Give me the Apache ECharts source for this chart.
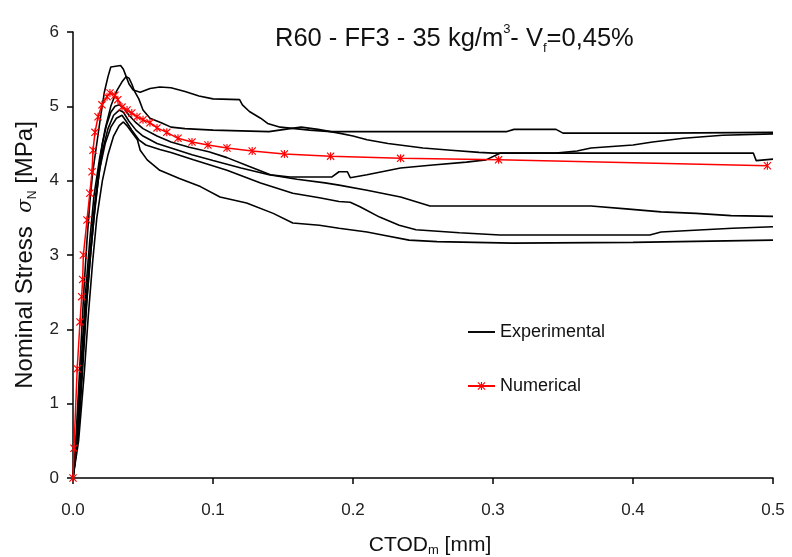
<!DOCTYPE html>
<html>
<head>
<meta charset="utf-8">
<script src="https://cdn.jsdelivr.net/npm/echarts@6/dist/echarts.min.js"></script>
<style>
html,body{margin:0;padding:0;background:#fff;}
#chart{width:792px;height:557px;}
</style>
</head>
<body>
<div id="chart"></div>
<script>
// ---- Data (CTOD_m [mm], nominal stress [MPa]) ----
const xTicks = [0, 0.1, 0.2, 0.3, 0.4, 0.5];
const yTicks = [0, 1, 2, 3, 4, 5, 6];

const exp1 = [[0,0],[0.002,0.5],[0.004,1.2],[0.006,1.9],[0.008,2.6],[0.010,3.2],[0.012,3.7],[0.014,4.1],[0.017,4.5],[0.020,4.9],[0.0225,5.2],[0.025,5.4],[0.027,5.53],[0.034,5.55],[0.036,5.5],[0.038,5.4],[0.040,5.3],[0.043,5.22],[0.048,5.19],[0.055,5.24],[0.062,5.26],[0.07,5.25],[0.08,5.2],[0.09,5.14],[0.1,5.1],[0.119,5.09],[0.121,5.02],[0.126,4.93],[0.134,4.84],[0.139,4.77],[0.148,4.72],[0.169,4.68],[0.184,4.66],[0.25,4.66],[0.31,4.66],[0.315,4.69],[0.345,4.69],[0.35,4.64],[0.42,4.64],[0.5,4.65]];

const exp2 = [[0,0],[0.003,0.6],[0.006,1.6],[0.009,2.5],[0.012,3.2],[0.015,3.8],[0.019,4.3],[0.023,4.7],[0.027,5.0],[0.031,5.2],[0.035,5.33],[0.038,5.4],[0.040,5.38],[0.042,5.3],[0.044,5.2],[0.047,5.1],[0.050,4.95],[0.055,4.84],[0.063,4.78],[0.07,4.72],[0.08,4.7],[0.1,4.68],[0.12,4.67],[0.14,4.66],[0.155,4.7],[0.163,4.72],[0.175,4.69],[0.19,4.64],[0.2,4.6],[0.21,4.55],[0.225,4.5],[0.25,4.44],[0.27,4.41],[0.29,4.38],[0.3,4.37],[0.345,4.37],[0.36,4.4],[0.37,4.44],[0.4,4.48],[0.414,4.52],[0.436,4.57],[0.464,4.61],[0.5,4.63]];

const exp3 = [[0,0],[0.003,0.5],[0.006,1.4],[0.009,2.3],[0.012,3.0],[0.015,3.6],[0.018,4.1],[0.021,4.5],[0.024,4.75],[0.027,4.92],[0.030,5.0],[0.033,5.02],[0.036,4.98],[0.04,4.88],[0.045,4.78],[0.05,4.7],[0.06,4.6],[0.07,4.52],[0.083,4.45],[0.097,4.39],[0.11,4.31],[0.126,4.19],[0.141,4.08],[0.155,4.05],[0.17,4.05],[0.185,4.05],[0.19,4.12],[0.196,4.12],[0.198,4.04],[0.21,4.08],[0.234,4.17],[0.257,4.21],[0.281,4.25],[0.295,4.28],[0.305,4.37],[0.35,4.37],[0.4,4.37],[0.45,4.37],[0.486,4.37],[0.488,4.27],[0.5,4.29]];

const exp4 = [[0,0],[0.003,0.45],[0.006,1.3],[0.009,2.2],[0.012,2.9],[0.015,3.5],[0.018,4.0],[0.021,4.4],[0.025,4.7],[0.029,4.88],[0.033,4.95],[0.036,4.92],[0.04,4.8],[0.045,4.68],[0.05,4.6],[0.06,4.5],[0.07,4.44],[0.085,4.35],[0.1,4.27],[0.12,4.17],[0.14,4.08],[0.16,4.02],[0.18,3.97],[0.19,3.94],[0.21,3.87],[0.234,3.78],[0.255,3.66],[0.3,3.66],[0.37,3.66],[0.395,3.62],[0.42,3.58],[0.445,3.56],[0.47,3.53],[0.5,3.52]];

const exp5 = [[0,0],[0.004,0.6],[0.007,1.5],[0.010,2.4],[0.013,3.1],[0.016,3.7],[0.019,4.15],[0.023,4.5],[0.027,4.72],[0.031,4.84],[0.035,4.88],[0.038,4.8],[0.042,4.68],[0.047,4.55],[0.052,4.48],[0.062,4.42],[0.07,4.38],[0.086,4.28],[0.11,4.14],[0.134,3.97],[0.157,3.83],[0.176,3.77],[0.19,3.72],[0.198,3.71],[0.205,3.65],[0.219,3.51],[0.233,3.4],[0.245,3.34],[0.276,3.3],[0.305,3.27],[0.36,3.27],[0.412,3.27],[0.42,3.31],[0.471,3.36],[0.5,3.38]];

const exp6 = [[0,0],[0.004,0.5],[0.008,1.4],[0.011,2.2],[0.014,2.9],[0.017,3.5],[0.021,4.0],[0.025,4.35],[0.029,4.6],[0.033,4.74],[0.036,4.79],[0.039,4.73],[0.046,4.55],[0.048,4.41],[0.053,4.28],[0.062,4.14],[0.076,4.03],[0.091,3.92],[0.105,3.78],[0.124,3.7],[0.143,3.56],[0.157,3.43],[0.176,3.4],[0.19,3.36],[0.21,3.31],[0.221,3.27],[0.24,3.2],[0.26,3.18],[0.314,3.16],[0.4,3.17],[0.5,3.2]];

const numerical = [[0,0],[0.0007,0.4],[0.003,1.47],[0.005,2.1],[0.0062,2.44],[0.0069,2.67],[0.0074,3.0],[0.010,3.47],[0.012,3.83],[0.0136,4.12],[0.0143,4.41],[0.0157,4.65],[0.0179,4.86],[0.0207,5.02],[0.0243,5.13],[0.0264,5.18],[0.030,5.15],[0.032,5.09],[0.035,4.99],[0.0386,4.95],[0.042,4.91],[0.0457,4.86],[0.05,4.82],[0.055,4.78],[0.06,4.71],[0.067,4.65],[0.075,4.57],[0.085,4.52],[0.0964,4.48],[0.11,4.44],[0.128,4.40],[0.151,4.36],[0.184,4.33],[0.234,4.30],[0.304,4.28],[0.496,4.2]];

const expSeries = [exp1, exp2, exp3, exp4, exp5, exp6];

const FONT = "'Liberation Sans Narrow','Liberation Sans',Arial,sans-serif";
const starPath = 'path://M4.3,0 L5.7,0 L5.7,10 L4.3,10 Z M0,1 L1,0 L10,9 L9,10 Z M9,0 L10,1 L1,10 L0,9 Z';

const series = expSeries.map(d => ({
  name: 'Experimental',
  type: 'line',
  data: d,
  showSymbol: false,
  symbol: 'none',
  lineStyle: { color: '#000', width: 1.6 },
  itemStyle: { color: '#000' },
  animation: false,
  z: 2
}));
series.push({
  name: 'Numerical',
  type: 'line',
  data: numerical,
  symbol: starPath,
  symbolSize: 8,
  lineStyle: { color: '#ff0000', width: 1.5 },
  itemStyle: { color: '#ff0000' },
  animation: false,
  z: 5
});

const chart = echarts.init(document.getElementById('chart'));
chart.setOption({
  backgroundColor: '#fff',
  animation: false,
  title: {
    text: '{a|R60 - FF3 - 35 kg/m}{sup|3}{a|- V}{sub|f}{a|=0,45%}',
    left: 270, top: 18,
    textStyle: {
      fontWeight: 'normal',
      rich: {
        a: { fontFamily: FONT, fontSize: 25.5, fontWeight: 'normal', color: '#111', lineHeight: 32 },
        sup: { fontFamily: FONT, fontSize: 13, fontWeight: 'normal', color: '#111', lineHeight: 14, verticalAlign: 'top' },
        sub: { fontFamily: FONT, fontSize: 13, fontWeight: 'normal', color: '#111', lineHeight: 14, verticalAlign: 'bottom' }
      }
    }
  },
  legend: {
    orient: 'vertical',
    left: 462, top: 318,
    itemWidth: 27, itemHeight: 10,
    itemGap: 36,
    data: [
      { name: 'Experimental', icon: 'path://M0,4 L28,4 L28,6 L0,6 Z', itemStyle: { color: '#000' } },
      { name: 'Numerical' }
    ],
    textStyle: { fontFamily: FONT, fontSize: 18, color: '#111' }
  },
  grid: { left: 73, right: 19, top: 32, bottom: 79, containLabel: false, outerBoundsMode: 'none' },
  xAxis: {
    type: 'value',
    min: xTicks[0], max: xTicks[xTicks.length - 1], interval: 0.1,
    name: '{a|CTOD}{sub|m}{a| [mm]}',
    nameLocation: 'middle', nameGap: 55,
    nameTextStyle: {
      padding: [0, 0, 0, 14],
      rich: {
        a: { fontFamily: FONT, fontSize: 21, color: '#111', lineHeight: 24 },
        sub: { fontFamily: FONT, fontSize: 13, color: '#111', lineHeight: 12, verticalAlign: 'bottom' }
      }
    },
    axisLine: { show: true, lineStyle: { color: '#000', width: 1.5 } },
    axisTick: { show: true, inside: false, length: 6, lineStyle: { color: '#000', width: 1.5 } },
    axisLabel: { fontFamily: FONT, fontSize: 17, color: '#222', margin: 24,
      formatter: v => v.toFixed(1) },
    splitLine: { show: false }
  },
  yAxis: {
    type: 'value',
    min: yTicks[0], max: yTicks[yTicks.length - 1], interval: 1,
    name: '{a|Nominal Stress  }{s|σ}{sub|N}{a| [MPa]}',
    nameLocation: 'middle', nameRotate: 90, nameGap: 32,
    nameTextStyle: {
      rich: {
        a: { fontFamily: FONT, fontSize: 24, color: '#111', lineHeight: 26 },
        s: { fontFamily: "'DejaVu Serif',serif", fontStyle: 'italic', fontSize: 20, color: '#111', lineHeight: 26 },
        sub: { fontFamily: FONT, fontSize: 12, color: '#111', lineHeight: 12, verticalAlign: 'bottom' }
      }
    },
    axisLine: { show: true, lineStyle: { color: '#000', width: 1.5 } },
    axisTick: { show: true, inside: false, length: 6, lineStyle: { color: '#000', width: 1.5 } },
    axisLabel: { fontFamily: FONT, fontSize: 17, color: '#222', margin: 14 },
    splitLine: { show: false }
  },
  series: series
});
</script>
</body>
</html>
